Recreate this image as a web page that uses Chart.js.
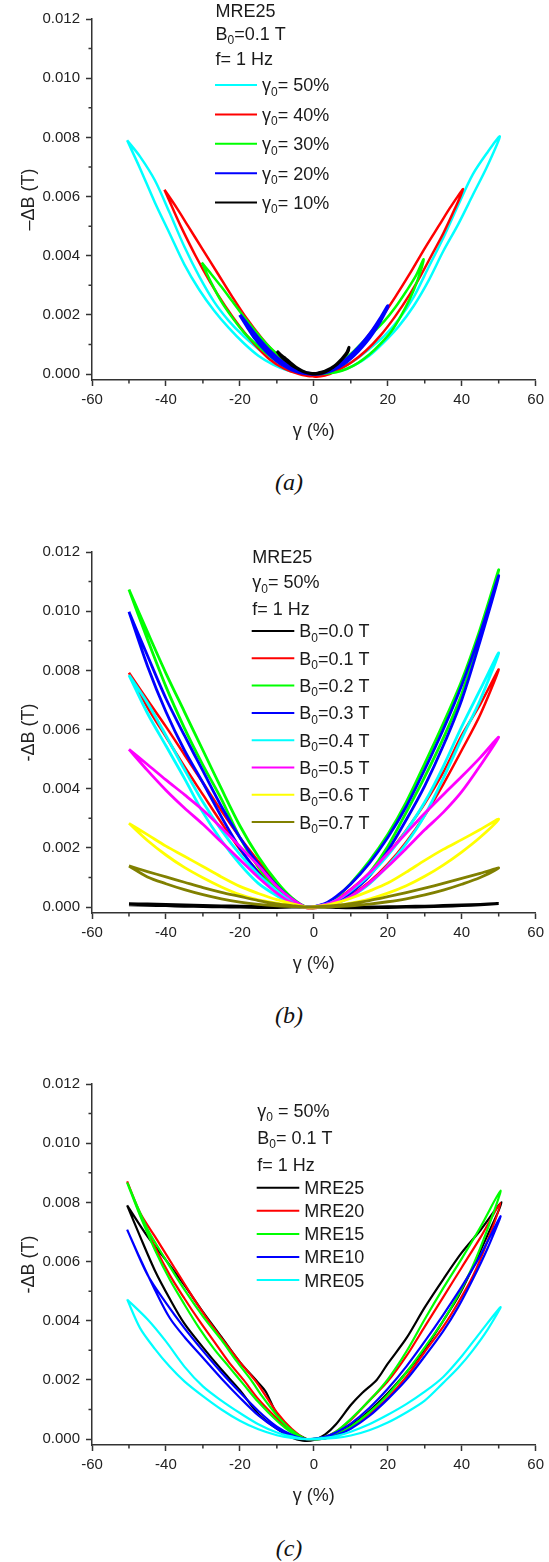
<!DOCTYPE html>
<html>
<head>
<meta charset="utf-8">
<script src="https://cdn.jsdelivr.net/npm/chart.js@4.4.0/dist/chart.umd.min.js"></script>
<style>
  html, body { margin: 0; padding: 0; background: #fff; }
  body { position: relative; width: 549px; height: 1562px; overflow: hidden; }
  canvas { position: absolute; left: 0; }
  .tag { position: absolute; width: 60px; text-align: center; line-height: 24px;
         font: italic 24px "Liberation Serif", "Times New Roman", serif; color: #111; }
</style>
</head>
<body>
<canvas id="chartA" width="549" height="460" style="top:0px"></canvas>
<div class="tag" style="left:259px; top:469px">(a)</div>
<canvas id="chartB" width="549" height="460" style="top:533px"></canvas>
<div class="tag" style="left:259px; top:1002px">(b)</div>
<canvas id="chartC" width="549" height="460" style="top:1065px"></canvas>
<div class="tag" style="left:259px; top:1535px">(c)</div>

<script>
// ---- axes ----
const xTicks = [-60, -40, -20, 0, 20, 40, 60];
const xMinor = [-50, -30, -10, 10, 30, 50];
const yTicks = [0, 0.002, 0.004, 0.006, 0.008, 0.010, 0.012];
const yMinor = [0.001, 0.003, 0.005, 0.007, 0.009, 0.011];

// ---- (a) MRE25, B0 = 0.1 T, f = 1 Hz : loops [gamma %, -dB T] ----
const aLabels = ['γ_0= 50%', 'γ_0= 40%', 'γ_0= 30%', 'γ_0= 20%', 'γ_0= 10%'];
const aG50 = [[-50.5,0.00790],[-47,0.00695],[-43,0.00580],[-39,0.00475],[-35,0.00370],[-31,0.00285],[-27,0.00215],[-23,0.00156],[-19,0.00105],[-15,0.00062],[-11,0.00032],[-7,0.00012],[-3,0.00003],[0,0.00001],
  [3,0.00006],[7,0.00022],[11,0.00046],[15,0.00085],[19,0.00128],[23,0.00185],[27,0.00260],[31,0.00360],[35,0.00460],[39,0.00570],[43,0.00675],[47,0.00750],[50.3,0.00803],
  [47,0.00705],[43,0.00605],[39,0.00505],[35,0.00415],[31,0.00315],[27,0.00230],[23,0.00162],[19,0.00108],[15,0.00062],[11,0.00030],[7,0.00010],[3,0.00002],[0,0.00001],
  [-3,0.00006],[-7,0.00022],[-11,0.00048],[-15,0.00085],[-19,0.00128],[-23,0.00180],[-27,0.00245],[-31,0.00330],[-35,0.00430],[-39,0.00545],[-43,0.00655],[-47,0.00735],[-50.5,0.00790]];
const aG40 = [[-40.4,0.00623],[-38,0.00555],[-36,0.00500],[-32,0.00400],[-28,0.00310],[-24,0.00230],[-20,0.00160],[-16,0.00100],[-12,0.00050],[-8,0.00018],[-4,0.00000],[-1,-0.00007],
  [3,0.00004],[6,0.00022],[10,0.00062],[14,0.00118],[18,0.00185],[22,0.00260],[26,0.00340],[30,0.00425],[34,0.00505],[37,0.00565],[40.4,0.00625],
  [38,0.00555],[35,0.00475],[32,0.00405],[29,0.00335],[26,0.00270],[22,0.00195],[18,0.00130],[14,0.00078],[10,0.00038],[6,0.00010],[3,-0.00005],[0,-0.00008],
  [-3,0.00005],[-6,0.00025],[-10,0.00065],[-14,0.00120],[-18,0.00185],[-22,0.00260],[-26,0.00340],[-30,0.00420],[-34,0.00500],[-37,0.00560],[-40.4,0.00623]];
const aG30 = [[-30.3,0.00377],[-28,0.00315],[-25,0.00245],[-22,0.00190],[-19,0.00142],[-16,0.00105],[-13,0.00072],[-10,0.00044],[-7,0.00022],[-4,0.00007],[-1,0.00001],
  [1,0.00002],[4,0.00012],[7,0.00035],[10,0.00068],[13,0.00105],[16,0.00140],[19,0.00178],[22,0.00225],[25,0.00280],[27.5,0.00330],[29.7,0.00388],
  [28,0.00315],[26,0.00255],[23.5,0.00195],[21,0.00145],[18,0.00102],[15,0.00066],[12,0.00038],[9,0.00018],[6,0.00006],[3,0.00001],[0,0.00000],
  [-1,0.00002],[-4,0.00012],[-7,0.00035],[-10,0.00068],[-13,0.00105],[-16,0.00148],[-19,0.00195],[-22,0.00245],[-25,0.00295],[-28,0.00342],[-30.3,0.00377]];
const aG20 = [[-20,0.00200],[-18,0.00160],[-16,0.00122],[-14,0.00092],[-12,0.00066],[-10,0.00045],[-8,0.00028],[-6,0.00015],[-4,0.00006],[-2,0.00002],[0,0.00000],
  [2,0.00004],[4,0.00012],[6,0.00025],[8,0.00042],[10,0.00063],[12,0.00088],[14,0.00117],[16,0.00150],[18,0.00188],[20,0.00230],
  [18,0.00180],[16,0.00140],[14,0.00106],[12,0.00078],[10,0.00054],[8,0.00034],[6,0.00019],[4,0.00008],[2,0.00002],[0,0.00000],
  [-2,0.00004],[-4,0.00011],[-6,0.00022],[-8,0.00037],[-10,0.00056],[-12,0.00079],[-14,0.00106],[-16,0.00136],[-18,0.00168],[-20,0.00200]];
const aG10 = [[-10,0.00078],[-9,0.00062],[-8,0.00050],[-7,0.00040],[-6,0.00030],[-5,0.00022],[-4,0.00015],[-3,0.00009],[-2,0.00005],[-1,0.00003],[0,0.00002],
  [1,0.00003],[2,0.00006],[3,0.00010],[4,0.00016],[5,0.00023],[6,0.00032],[7,0.00044],[8,0.00058],[9,0.00075],[9.5,0.00090],
  [9,0.00070],[8,0.00055],[7,0.00042],[6,0.00030],[5,0.00021],[4,0.00013],[3,0.00007],[2,0.00003],[1,0.00001],[0,0.00000],
  [-1,0.00002],[-2,0.00005],[-3,0.00010],[-4,0.00017],[-5,0.00025],[-6,0.00035],[-7,0.00046],[-8,0.00056],[-9,0.00066],[-10,0.00078]];

// ---- (b) MRE25, gamma0 = 50 %, f = 1 Hz ----
const bLabels = ['B_0=0.0 T', 'B_0=0.1 T', 'B_0=0.2 T', 'B_0=0.3 T', 'B_0=0.4 T', 'B_0=0.5 T', 'B_0=0.6 T', 'B_0=0.7 T'];
const bB00 = [[-50,0.00008],[-45,0.00006],[-40,0.00005],[-35,0.00003],[-30,0.00002],[-25,0.00001],[-20,0.00000],[-15,-0.00001],[-10,-0.00001],[-6,0.00000],[-2,0.00000],
  [3,0.00001],[6,0.00000],[10,-0.00001],[15,0.00000],[20,0.00001],[25,0.00002],[30,0.00003],[35,0.00005],[40,0.00007],[45,0.00009],[50,0.00012],
  [45,0.00008],[40,0.00005],[35,0.00003],[30,0.00001],[25,0.00000],[20,-0.00001],[15,-0.00002],[10,-0.00002],[6,-0.00001],[3,0.00000],[-2,0.00000],
  [-6,0.00001],[-10,0.00001],[-15,0.00002],[-20,0.00003],[-25,0.00004],[-30,0.00005],[-35,0.00007],[-40,0.00009],[-45,0.00010],[-50,0.00011]];
const bB01 = [[-50,0.00792],[-45,0.00675],[-40,0.00575],[-35,0.00475],[-30,0.00380],[-25,0.00285],[-20,0.00195],[-15,0.00120],[-10,0.00055],[-6,0.00018],[-2,-0.00002],
  [3,0.00008],[6,0.00025],[10,0.00060],[15,0.00115],[20,0.00180],[25,0.00260],[30,0.00350],[35,0.00455],[40,0.00580],[45,0.00685],[50,0.00803],
  [45,0.00650],[40,0.00530],[35,0.00415],[30,0.00310],[25,0.00220],[20,0.00145],[15,0.00085],[10,0.00040],[6,0.00015],[3,0.00002],[-2,-0.00003],
  [-6,0.00030],[-10,0.00080],[-15,0.00155],[-20,0.00235],[-25,0.00325],[-30,0.00420],[-35,0.00515],[-40,0.00610],[-45,0.00700],[-50,0.00792]];
const bB02 = [[-50,0.01073],[-45,0.00905],[-40,0.00745],[-35,0.00605],[-30,0.00480],[-25,0.00365],[-20,0.00235],[-15,0.00135],[-10,0.00060],[-6,0.00022],[-2,0.00000],
  [3,0.00010],[6,0.00032],[10,0.00080],[15,0.00155],[20,0.00245],[25,0.00355],[30,0.00485],[35,0.00620],[40,0.00765],[45,0.00940],[50,0.01140],
  [45,0.00920],[40,0.00720],[35,0.00570],[30,0.00440],[25,0.00320],[20,0.00205],[15,0.00115],[10,0.00050],[6,0.00018],[3,0.00002],[-2,0.00000],
  [-6,0.00032],[-10,0.00085],[-15,0.00170],[-20,0.00275],[-25,0.00400],[-30,0.00530],[-35,0.00660],[-40,0.00790],[-45,0.00930],[-50,0.01073]];
const bB03 = [[-50,0.00998],[-45,0.00815],[-40,0.00660],[-35,0.00530],[-30,0.00420],[-25,0.00305],[-20,0.00200],[-15,0.00115],[-10,0.00050],[-6,0.00018],[-2,0.00000],
  [3,0.00012],[6,0.00035],[10,0.00078],[15,0.00148],[20,0.00235],[25,0.00340],[30,0.00465],[35,0.00600],[40,0.00750],[45,0.00925],[50,0.01120],
  [45,0.00900],[40,0.00700],[35,0.00545],[30,0.00410],[25,0.00295],[20,0.00190],[15,0.00105],[10,0.00048],[6,0.00016],[3,0.00003],[-2,0.00000],
  [-6,0.00028],[-10,0.00072],[-15,0.00145],[-20,0.00235],[-25,0.00340],[-30,0.00460],[-35,0.00580],[-40,0.00705],[-45,0.00850],[-50,0.00998]];
const bB04 = [[-50,0.00784],[-45,0.00655],[-40,0.00545],[-35,0.00435],[-30,0.00320],[-25,0.00225],[-20,0.00145],[-15,0.00080],[-10,0.00038],[-6,0.00012],[-2,0.00000],
  [3,0.00008],[6,0.00022],[10,0.00055],[15,0.00108],[20,0.00175],[25,0.00258],[30,0.00355],[35,0.00475],[40,0.00610],[45,0.00735],[50,0.00859],
  [45,0.00700],[40,0.00570],[35,0.00435],[30,0.00310],[25,0.00215],[20,0.00140],[15,0.00078],[10,0.00035],[6,0.00012],[3,0.00002],[-2,0.00000],
  [-6,0.00020],[-10,0.00055],[-15,0.00110],[-20,0.00178],[-25,0.00260],[-30,0.00355],[-35,0.00465],[-40,0.00580],[-45,0.00690],[-50,0.00784]];
const bB05 = [[-50,0.00533],[-45,0.00462],[-40,0.00395],[-35,0.00335],[-30,0.00280],[-25,0.00220],[-20,0.00160],[-15,0.00100],[-10,0.00047],[-6,0.00015],[-2,0.00000],
  [3,0.00008],[6,0.00022],[10,0.00058],[15,0.00115],[20,0.00182],[25,0.00250],[30,0.00317],[35,0.00380],[40,0.00441],[45,0.00505],[50,0.00574],
  [45,0.00478],[40,0.00390],[35,0.00320],[30,0.00261],[25,0.00198],[20,0.00137],[15,0.00082],[10,0.00036],[6,0.00012],[3,0.00002],[-2,0.00000],
  [-6,0.00028],[-10,0.00070],[-15,0.00140],[-20,0.00205],[-25,0.00268],[-30,0.00328],[-35,0.00380],[-40,0.00430],[-45,0.00482],[-50,0.00533]];
const bB06 = [[-50,0.00283],[-45,0.00225],[-40,0.00176],[-35,0.00134],[-30,0.00099],[-25,0.00068],[-20,0.00042],[-15,0.00024],[-10,0.00013],[-6,0.00005],[-2,0.00000],
  [3,0.00006],[6,0.00014],[10,0.00030],[15,0.00054],[20,0.00081],[25,0.00118],[30,0.00158],[35,0.00195],[40,0.00228],[45,0.00262],[50,0.00297],
  [45,0.00236],[40,0.00186],[35,0.00142],[30,0.00104],[25,0.00072],[20,0.00047],[15,0.00027],[10,0.00013],[6,0.00005],[3,0.00001],[-2,0.00000],
  [-6,0.00012],[-10,0.00025],[-15,0.00046],[-20,0.00070],[-25,0.00102],[-30,0.00137],[-35,0.00172],[-40,0.00206],[-45,0.00245],[-50,0.00283]];
const bB07 = [[-50,0.00139],[-45,0.00102],[-40,0.00079],[-35,0.00059],[-30,0.00042],[-25,0.00028],[-20,0.00017],[-15,0.00009],[-10,0.00004],[-6,0.00002],[-2,0.00000],
  [3,0.00003],[6,0.00006],[10,0.00012],[15,0.00022],[20,0.00035],[25,0.00049],[30,0.00064],[35,0.00080],[40,0.00097],[45,0.00114],[50,0.00132],
  [45,0.00100],[40,0.00077],[35,0.00057],[30,0.00041],[25,0.00028],[20,0.00018],[15,0.00010],[10,0.00004],[6,0.00002],[3,0.00000],[-2,0.00000],
  [-6,0.00005],[-10,0.00011],[-15,0.00022],[-20,0.00036],[-25,0.00050],[-30,0.00066],[-35,0.00084],[-40,0.00102],[-45,0.00120],[-50,0.00139]];

// ---- (c) gamma0 = 50 %, B0 = 0.1 T, f = 1 Hz, different MRE ----
const cLabels = ['MRE25', 'MRE20', 'MRE15', 'MRE10', 'MRE05'];
const cM25 = [[-50.5,0.00790],[-47,0.00685],[-43,0.00570],[-39,0.00475],[-35,0.00390],[-30,0.00310],[-25,0.00235],[-20,0.00165],[-15,0.00085],[-10,0.00035],[-6,0.00005],[-3,-0.00005],[0,-0.00003],
  [3,0.00015],[6,0.00050],[10,0.00115],[13,0.00155],[17,0.00200],[20,0.00255],[25,0.00340],[30,0.00445],[35,0.00540],[40,0.00630],[45,0.00705],[50.8,0.00800],
  [47,0.00690],[43,0.00580],[39,0.00480],[35,0.00400],[30,0.00305],[25,0.00225],[20,0.00155],[15,0.00095],[10,0.00045],[6,0.00015],[3,0.00002],[0,-0.00002],
  [-2,0.00000],[-6,0.00030],[-10,0.00085],[-13,0.00160],[-15,0.00190],[-20,0.00260],[-25,0.00345],[-30,0.00430],[-35,0.00520],[-40,0.00605],[-45,0.00685],[-50.5,0.00790]];
const cM20 = [[-50.5,0.00871],[-47,0.00760],[-43,0.00650],[-39,0.00555],[-35,0.00475],[-31,0.00400],[-27,0.00330],[-23,0.00260],[-19,0.00200],[-15,0.00135],[-10,0.00070],[-6,0.00025],[-2,0.00000],
  [3,0.00008],[6,0.00025],[10,0.00065],[15,0.00130],[20,0.00195],[25,0.00280],[30,0.00380],[35,0.00480],[40,0.00580],[45,0.00680],[50.5,0.00798],
  [47,0.00670],[43,0.00550],[39,0.00460],[35,0.00380],[30,0.00295],[25,0.00210],[20,0.00140],[15,0.00085],[10,0.00040],[6,0.00015],[3,0.00003],[-2,0.00000],
  [-6,0.00035],[-10,0.00090],[-14,0.00165],[-16,0.00200],[-20,0.00260],[-24,0.00325],[-28.5,0.00400],[-33,0.00485],[-38,0.00585],[-43,0.00685],[-47,0.00765],[-50.5,0.00871]];
const cM15 = [[-50.5,0.00867],[-47,0.00755],[-43,0.00640],[-39,0.00540],[-35,0.00455],[-31,0.00375],[-27,0.00305],[-23,0.00245],[-19,0.00185],[-15,0.00125],[-10,0.00062],[-6,0.00022],[-2,0.00000],
  [3,0.00008],[6,0.00025],[10,0.00068],[15,0.00130],[20,0.00202],[25,0.00295],[30,0.00405],[35,0.00510],[40,0.00610],[45,0.00715],[50.5,0.00840],
  [47,0.00710],[43,0.00585],[39,0.00485],[35,0.00400],[30,0.00310],[25,0.00225],[20,0.00150],[15,0.00090],[10,0.00042],[6,0.00015],[3,0.00003],[-2,0.00000],
  [-6,0.00030],[-10,0.00080],[-14,0.00145],[-17,0.00200],[-21,0.00265],[-25,0.00335],[-30,0.00415],[-35,0.00505],[-40,0.00605],[-45,0.00710],[-50.5,0.00867]];
const cM10 = [[-50.5,0.00708],[-47,0.00610],[-43,0.00505],[-39,0.00410],[-35,0.00345],[-30,0.00275],[-25,0.00205],[-20,0.00140],[-15,0.00080],[-10,0.00035],[-6,0.00010],[-2,0.00000],
  [3,0.00008],[6,0.00022],[10,0.00052],[15,0.00105],[20,0.00170],[25,0.00245],[30,0.00330],[35,0.00420],[40,0.00515],[45,0.00620],[50.5,0.00753],
  [47,0.00645],[43,0.00540],[39,0.00445],[35,0.00365],[30,0.00280],[25,0.00200],[20,0.00135],[15,0.00078],[10,0.00035],[6,0.00012],[3,0.00003],[-2,0.00000],
  [-6,0.00015],[-10,0.00042],[-15,0.00095],[-20,0.00158],[-25,0.00225],[-30,0.00298],[-35,0.00375],[-40,0.00460],[-45,0.00555],[-50.5,0.00708]];
const cM05 = [[-50.5,0.00472],[-47,0.00375],[-43,0.00305],[-39,0.00245],[-35,0.00195],[-30,0.00145],[-25,0.00100],[-20,0.00062],[-15,0.00033],[-10,0.00013],[-6,0.00004],[-2,0.00000],
  [3,0.00004],[6,0.00010],[10,0.00025],[15,0.00050],[20,0.00082],[25,0.00118],[30,0.00160],[35,0.00210],[40,0.00280],[45,0.00360],[50.5,0.00446],
  [47,0.00370],[43,0.00300],[39,0.00240],[35,0.00190],[30,0.00130],[25,0.00090],[20,0.00056],[15,0.00030],[10,0.00012],[6,0.00004],[-2,0.00000],
  [-6,0.00009],[-10,0.00022],[-15,0.00050],[-20,0.00088],[-25,0.00130],[-30,0.00178],[-35,0.00245],[-40,0.00330],[-45,0.00405],[-50.5,0.00472]];

const FONT = '"Liberation Sans", Arial, sans-serif';
Chart.defaults.font.family = FONT;

// text with "_x" meaning subscript x
function richText(ctx, str, x, y, size) {
  const parts = str.split(/_(.)/);
  parts.forEach((p, i) => {
    if (!p) return;
    const sub = i % 2 === 1;
    ctx.font = `${sub ? Math.round(size * 0.68) : size}px ${FONT}`;
    ctx.fillText(p, x, sub ? y + size * 0.24 : y);
    x += ctx.measureText(p).width;
  });
}

// short minor ticks between the labelled ones
const axisMinor = {
  id: 'axisMinor',
  afterDraw(chart) {
    const { ctx, chartArea: area, scales: { x, y } } = chart;
    ctx.save();
    ctx.strokeStyle = '#333';
    ctx.lineWidth = 1.5;
    ctx.beginPath();
    xMinor.forEach(v => {
      const px = x.getPixelForValue(v);
      ctx.moveTo(px, area.bottom);
      ctx.lineTo(px, area.bottom + 3.5);
    });
    yMinor.forEach(v => {
      const py = y.getPixelForValue(v);
      ctx.moveTo(area.left, py);
      ctx.lineTo(area.left - 3.5, py);
    });
    ctx.stroke();
    ctx.restore();
  }
};

// legend block inside the plot: header lines then one row per dataset
const panelLegend = {
  id: 'panelLegend',
  afterDraw(chart, args, o) {
    const ctx = chart.ctx;
    ctx.save();
    ctx.fillStyle = '#1a1a1a';
    ctx.textBaseline = 'alphabetic';
    o.header.forEach((t, i) => richText(ctx, t, o.x, o.headerBase[i], o.size));
    chart.data.datasets.forEach((ds, i) => {
      const yy = o.rowTop + i * o.rowStep;
      ctx.strokeStyle = ds.borderColor;
      ctx.lineWidth = 2;
      ctx.beginPath();
      ctx.moveTo(o.lineX, yy);
      ctx.lineTo(o.lineX + o.lineLen, yy);
      ctx.stroke();
      ctx.fillStyle = '#1a1a1a';
      richText(ctx, ds.label, o.textX, yy + o.size * 0.36, o.size);
    });
    ctx.restore();
  }
};

const axisLine = { color: '#333', width: 1.5 };
const axisGrid = { drawOnChartArea: false, tickLength: 6, tickWidth: 1.5, tickColor: '#333' };

function makePanel(id, series, labels, colors, widths, yTitle, legend) {
  new Chart(document.getElementById(id), {
    type: 'scatter',
    data: {
      datasets: series.map((pts, i) => ({
        label: labels[i],
        data: pts.map(([x, y]) => ({ x, y })),
        showLine: true,
        borderColor: colors[i],
        borderWidth: widths[i],
        pointRadius: 0,
        tension: 0.3,
        order: series.length - i
      }))
    },
    options: {
      responsive: false,
      animation: false,
      events: [],
      layout: { padding: { left: 0, right: 10, top: 19, bottom: 14 } },
      plugins: {
        legend: { display: false },
        tooltip: { enabled: false },
        panelLegend: legend
      },
      scales: {
        x: {
          type: 'linear', min: -60, max: 60,
          afterBuildTicks: s => { s.ticks = xTicks.map(v => ({ value: v })); },
          afterFit: s => { s.height = 66; },
          grid: axisGrid,
          border: axisLine,
          ticks: { color: '#222', font: { size: 15 }, padding: 5, maxRotation: 0, autoSkip: false },
          title: { display: true, text: 'γ (%)', color: '#222', font: { size: 18 }, padding: { top: 4, bottom: 4 } }
        },
        y: {
          type: 'linear', min: -0.0002, max: 0.012,
          afterBuildTicks: s => { s.ticks = yTicks.map(v => ({ value: v })); },
          afterFit: s => { s.width = 92; },
          grid: axisGrid,
          border: axisLine,
          ticks: { color: '#222', font: { size: 15 }, padding: 6, callback: v => v.toFixed(3) },
          title: { display: true, text: yTitle, color: '#222', font: { size: 18 }, padding: { top: 18, bottom: 0 } }
        }
      }
    },
    plugins: [axisMinor, panelLegend]
  });
}

makePanel('chartA', [aG50, aG40, aG30, aG20, aG10], aLabels,
  ['#00ffff', '#ff0000', '#00ff00', '#0000ff', '#000000'], [2.5, 2.5, 2.5, 3.5, 3], '–ΔB (T)',
  { x: 215.5, header: ['MRE25', 'B_0=0.1 T', 'f= 1 Hz'], headerBase: [16.5, 39.5, 65],
    rowTop: 85, rowStep: 29.4, lineX: 215, lineLen: 42, textX: 262, size: 18 });

makePanel('chartB', [bB00, bB01, bB02, bB03, bB04, bB05, bB06, bB07], bLabels,
  ['#000000', '#ff0000', '#00ff00', '#0000ff', '#00ffff', '#ff00ff', '#ffff00', '#808000'],
  [3, 2.5, 2.8, 2.8, 2.8, 2.8, 2.8, 2.8], '-ΔB (T)',
  { x: 252.3, header: ['MRE25', 'γ_0= 50%', 'f= 1 Hz'], headerBase: [29.7, 55.3, 82],
    rowTop: 98, rowStep: 27.3, lineX: 251.7, lineLen: 42.6, textX: 299.3, size: 18 });

makePanel('chartC', [cM25, cM20, cM15, cM10, cM05], cLabels,
  ['#000000', '#ff0000', '#00ff00', '#0000ff', '#00ffff'], [2.2, 2.2, 2.2, 2.2, 2.2], '-ΔB (T)',
  { x: 257.3, header: ['γ_0 = 50%', 'B_0= 0.1 T', 'f= 1 Hz'], headerBase: [51.7, 79, 105.7],
    rowTop: 122.7, rowStep: 23.1, lineX: 256.7, lineLen: 42.6, textX: 304.3, size: 18 });
</script>
</body>
</html>
